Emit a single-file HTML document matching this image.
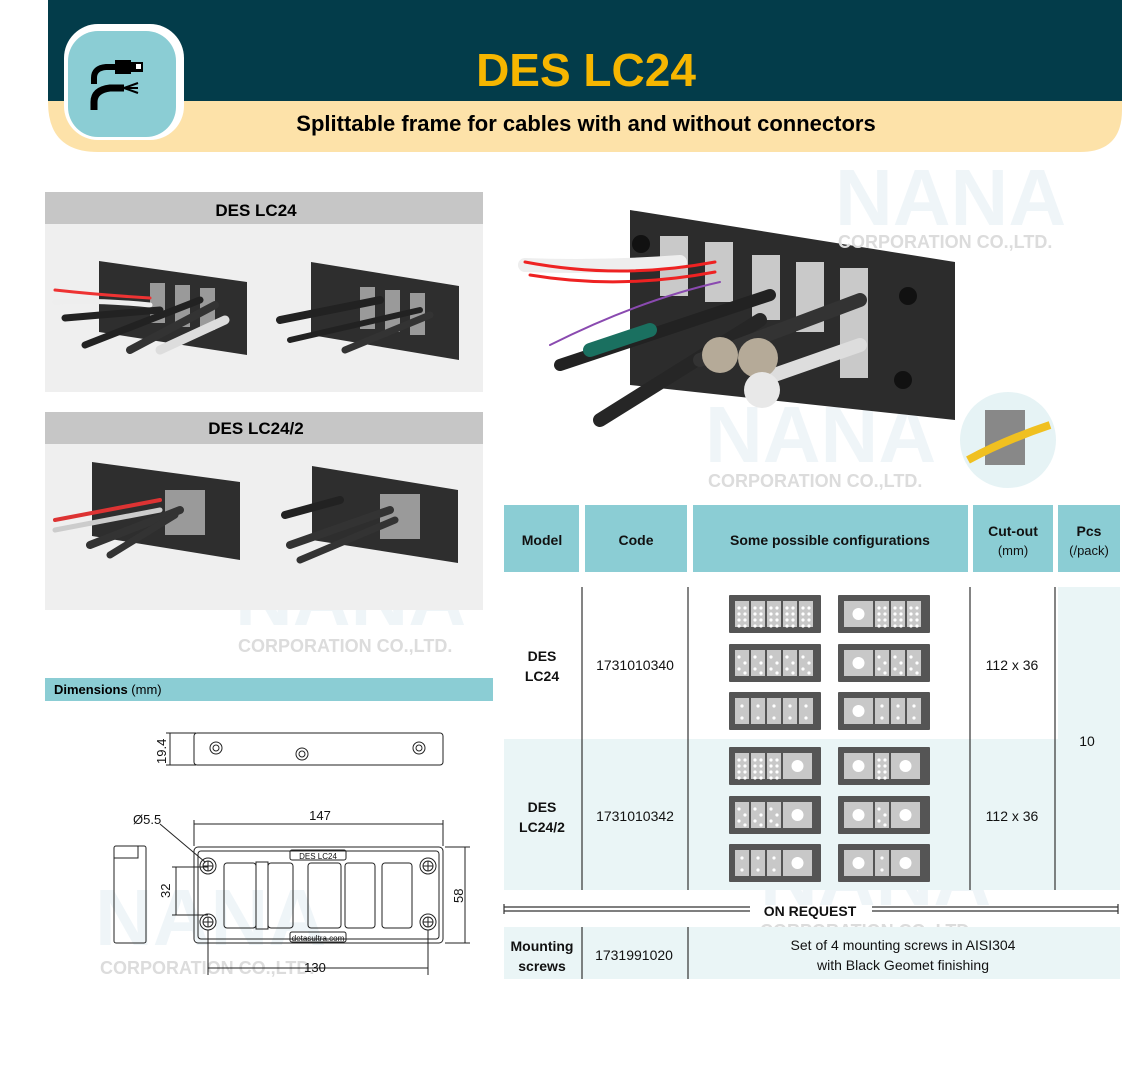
<!DOCTYPE html>
<html><head><meta charset="utf-8"><style>
body{margin:0;background:#fff;width:1148px;height:1075px;overflow:hidden;position:relative;font-family:"Liberation Sans",sans-serif}
svg{position:absolute;left:0;top:0}
</style></head><body>
<svg width="1148" height="1075" viewBox="0 0 1148 1075" font-family="Liberation Sans, sans-serif">
<!-- header -->
<path d="M48 0H1122V110Q1122 152 1080 152H98Q48 152 48 102Z" fill="#fde2a9"/>
<rect x="48" y="0" width="1074" height="101" fill="#033c4a"/>
<rect x="64" y="24" width="120" height="116" rx="34" fill="#fff"/>
<rect x="68" y="31" width="108" height="106" rx="30" fill="#8bcdd4"/>
<path d="M94 84V78Q94 68 106 67H116" stroke="#000" stroke-width="6" fill="none"/>
<rect x="115" y="60" width="16" height="14" fill="#000"/><rect x="131" y="62" width="12" height="10" fill="#000"/><rect x="136" y="64" width="5" height="5" fill="#fff"/>
<path d="M94 110V102Q94 90 110 88H124" stroke="#000" stroke-width="7" fill="none"/>
<path d="M124 88L138 83M124 88L138 88M124 88L138 93" stroke="#000" stroke-width="2"/>
<text x="586" y="86" font-size="46" font-weight="bold" fill="#f6b600" text-anchor="middle">DES LC24</text>
<text x="586" y="131" font-size="22" font-weight="bold" fill="#000" text-anchor="middle">Splittable frame for cables with and without connectors</text>

<!-- watermarks -->
<g fill="#e3edf4" font-weight="bold" font-size="80" opacity="0.55">
<text x="100" y="258">NANA</text><text x="835" y="225">NANA</text><text x="705" y="462">NANA</text><text x="235" y="625">NANA</text><text x="760" y="905">NANA</text><text x="95" y="945">NANA</text>
</g>

<!-- left photo panels -->
<rect x="45" y="192" width="438" height="32" fill="#c6c6c6"/>
<rect x="45" y="224" width="438" height="168" fill="#efefef"/>
<text x="256" y="216" font-size="17" font-weight="bold" text-anchor="middle">DES LC24</text>
<rect x="45" y="412" width="438" height="32" fill="#c6c6c6"/>
<rect x="45" y="444" width="438" height="166" fill="#efefef"/>
<text x="256" y="434" font-size="17" font-weight="bold" text-anchor="middle">DES LC24/2</text>
<g fill="#2e2e2e">
<polygon points="99,261 247,282 247,355 99,332"/><polygon points="311,262 459,286 459,360 311,335"/>
<polygon points="92,462 240,482 240,560 92,536"/><polygon points="312,466 458,490 458,563 312,540"/>
</g>
<g fill="#9a9a9a">
<rect x="150" y="283" width="15" height="40"/><rect x="175" y="285" width="15" height="42"/><rect x="200" y="288" width="15" height="42"/>
<rect x="360" y="287" width="15" height="42"/><rect x="385" y="290" width="15" height="42"/><rect x="410" y="293" width="15" height="42"/>
<rect x="165" y="490" width="40" height="45"/><rect x="380" y="494" width="40" height="45"/>
</g>
<g stroke-linecap="round" fill="none">
<path d="M55 290Q100 295 150 298" stroke="#e33" stroke-width="3"/><path d="M55 302Q100 300 150 305" stroke="#eee" stroke-width="5"/>
<path d="M65 318L160 310" stroke="#222" stroke-width="7"/><path d="M85 345L200 300" stroke="#222" stroke-width="7"/>
<path d="M130 350L215 305" stroke="#333" stroke-width="8"/><path d="M160 350L225 320" stroke="#ddd" stroke-width="9"/>
<path d="M280 320L380 300" stroke="#222" stroke-width="8"/><path d="M290 340L420 310" stroke="#222" stroke-width="6"/><path d="M345 350L430 315" stroke="#333" stroke-width="7"/>
<path d="M55 520L160 500" stroke="#d33" stroke-width="4"/><path d="M55 530L160 510" stroke="#ccc" stroke-width="5"/><path d="M90 545L180 510" stroke="#333" stroke-width="8"/>
<path d="M110 555L175 515" stroke="#333" stroke-width="7"/><path d="M285 515L340 500" stroke="#222" stroke-width="8"/><path d="M290 545L390 510" stroke="#333" stroke-width="8"/><path d="M300 560L395 520" stroke="#333" stroke-width="7"/>
</g>

<!-- big photo -->
<polygon points="630,210 955,262 955,420 630,385" fill="#2c2c2c"/>
<g fill="#c9c9c9"><rect x="660" y="236" width="28" height="60"/><rect x="705" y="242" width="28" height="60"/><rect x="752" y="255" width="28" height="65"/><rect x="796" y="262" width="28" height="70"/><rect x="840" y="268" width="28" height="110"/></g>
<g fill="#111"><circle cx="641" cy="244" r="9"/><circle cx="908" cy="296" r="9"/><circle cx="903" cy="380" r="9"/></g>
<g fill="none" stroke-linecap="round">
<path d="M525 265Q600 268 680 262" stroke="#eee" stroke-width="14"/>
<path d="M525 262Q620 280 715 262" stroke="#e22" stroke-width="3"/><path d="M530 275Q620 290 715 272" stroke="#e22" stroke-width="3"/>
<path d="M550 345Q640 300 720 282" stroke="#8a4ab0" stroke-width="2"/>
<path d="M560 365L770 295" stroke="#222" stroke-width="12"/>
<path d="M590 350L650 330" stroke="#1a7060" stroke-width="14"/>
<path d="M600 420L760 320" stroke="#262626" stroke-width="14"/>
<path d="M700 360L860 300" stroke="#333" stroke-width="14"/>
<path d="M760 380L860 345" stroke="#ddd" stroke-width="14"/>
</g>
<circle cx="720" cy="355" r="18" fill="#b5aa98"/><circle cx="758" cy="358" r="20" fill="#b5aa98"/><circle cx="762" cy="390" r="18" fill="#e8e8e8"/>
<circle cx="1008" cy="440" r="48" fill="#e6f3f5"/>
<rect x="985" y="410" width="40" height="55" fill="#888"/><path d="M968 460Q1005 440 1050 425" stroke="#f0c020" stroke-width="8" fill="none"/>

<g fill="#dcdcdc" font-weight="bold" font-size="18">
<text x="238" y="652">CORPORATION CO.,LTD.</text><text x="838" y="248">CORPORATION CO.,LTD.</text><text x="708" y="487">CORPORATION CO.,LTD.</text><text x="100" y="974">CORPORATION CO.,LTD.</text><text x="760" y="937">CORPORATION CO.,LTD.</text>
</g>

<!-- dimensions -->
<rect x="45" y="678" width="448" height="23" fill="#8bcdd4"/>
<text x="54" y="694" font-size="13"><tspan font-weight="bold">Dimensions</tspan> (mm)</text>
<g stroke="#222" fill="none" stroke-width="1">
<rect x="194" y="733" width="249" height="32" rx="3"/>
<path d="M166 733H196M166 765H196M170 733V765"/>
<circle cx="216" cy="748" r="6"/><circle cx="216" cy="748" r="3"/><circle cx="302" cy="754" r="6"/><circle cx="302" cy="754" r="3"/><circle cx="419" cy="748" r="6"/><circle cx="419" cy="748" r="3"/>
<rect x="114" y="846" width="32" height="97" rx="2"/><path d="M114 858H138V846"/>
<rect x="194" y="847" width="249" height="96" rx="4"/><rect x="198" y="851" width="241" height="88" rx="3"/>
<path d="M194 846V820M443 846V820M194 824H443"/>
<path d="M445 847H470M445 943H470M465 847V943"/>
<path d="M172 867H208M172 915H208M176 867V915"/>
<path d="M208 930V975M428 930V975M208 968H428"/>
<path d="M160 824L205 862"/>
<circle cx="208" cy="866" r="8"/><circle cx="208" cy="866" r="5"/><circle cx="428" cy="866" r="8"/><circle cx="428" cy="866" r="5"/>
<circle cx="208" cy="922" r="8"/><circle cx="208" cy="922" r="5"/><circle cx="428" cy="922" r="8"/><circle cx="428" cy="922" r="5"/>
<path d="M203 866h10M208 861v10M423 866h10M428 861v10M203 922h10M208 917v10M423 922h10M428 917v10"/>
<rect x="224" y="863" width="32" height="65" rx="3"/><rect x="256" y="862" width="12" height="67"/><rect x="268" y="863" width="25" height="65" rx="3"/>
<rect x="308" y="863" width="33" height="65" rx="3"/><rect x="345" y="863" width="30" height="65" rx="3"/><rect x="382" y="863" width="30" height="65" rx="3"/>
<rect x="290" y="850" width="56" height="10" rx="2"/><rect x="290" y="932" width="56" height="10" rx="2"/>
</g>
<g font-size="13" fill="#111">
<text x="320" y="820" text-anchor="middle">147</text><text x="315" y="972" text-anchor="middle">130</text><text x="133" y="824">Ø5.5</text>
<text transform="translate(166 764) rotate(-90)">19.4</text><text transform="translate(170 898) rotate(-90)">32</text><text transform="translate(463 903) rotate(-90)">58</text>
<text x="318" y="859" font-size="8" text-anchor="middle">DES LC24</text><text x="318" y="941" font-size="8" text-anchor="middle">detasultra.com</text>
</g>

<!-- table -->
<g fill="#8bcdd4">
<rect x="504" y="505" width="75" height="67"/><rect x="585" y="505" width="102" height="67"/><rect x="693" y="505" width="275" height="67"/><rect x="973" y="505" width="80" height="67"/><rect x="1058" y="505" width="62" height="67"/>
</g>
<rect x="1058" y="587" width="62" height="152" fill="#eaf5f6"/>
<rect x="504" y="739" width="616" height="151" fill="#eaf5f6"/>
<rect x="504" y="927" width="616" height="52" fill="#eaf5f6"/>
<g stroke="#333" stroke-width="1.2">
<path d="M582 587V890M688 587V890M970 587V890M1055 587V890M582 927V979M688 927V979"/>
<path d="M504 907H750M504 911H750M872 907H1118M872 911H1118M504 904V914M1118 904V914"/>
</g>
<g font-size="14" font-weight="bold" fill="#111" text-anchor="middle">
<text x="542" y="545">Model</text><text x="636" y="545">Code</text><text x="830" y="545">Some possible configurations</text>
<text x="1013" y="536">Cut-out</text><text x="1089" y="536">Pcs</text>
<text x="542" y="661">DES</text><text x="542" y="681">LC24</text>
<text x="542" y="812">DES</text><text x="542" y="832">LC24/2</text>
<text x="810" y="916">ON REQUEST</text>
<text x="542" y="951">Mounting</text><text x="542" y="971">screws</text>
</g>
<g font-size="14" fill="#111" text-anchor="middle">
<text x="1013" y="555" font-size="13">(mm)</text><text x="1089" y="555" font-size="13">(/pack)</text>
<text x="635" y="670">1731010340</text><text x="635" y="821">1731010342</text><text x="634" y="960">1731991020</text>
<text x="1012" y="670">112 x 36</text><text x="1012" y="821">112 x 36</text><text x="1087" y="746">10</text>
<text x="903" y="950">Set of 4 mounting screws in AISI304</text><text x="903" y="970">with Black Geomet finishing</text>
</g>
<g id="icons"></g>
</svg>
<script>
var g=document.getElementById('icons'),s='';
function icon(x,y,spec){
 s+='<rect x="'+x+'" y="'+y+'" width="92" height="38" fill="#555" rx="1"/>';
 var cx=x+6;
 for(var i=0;i<spec.length;i++){
  var t=spec[i];
  if(t=='O'){s+='<rect x="'+cx+'" y="'+(y+6)+'" width="29" height="26" fill="#c8c8c8"/><circle cx="'+(cx+14.5)+'" cy="'+(y+19)+'" r="6" fill="#fff"/>';cx+=31;}
  else{s+='<rect x="'+cx+'" y="'+(y+6)+'" width="14" height="26" fill="#c8c8c8"/>';
   var d=[];
   if(t=='A'){for(var r=0;r<4;r++){d.push([4,9+r*6-3]);d.push([10,9+r*6-3]);}}
   else if(t=='B'){d=[[4,6],[10,12],[4,18],[10,22]];}
   else{d=[[7,7],[7,19]];}
   d.forEach(function(p){s+='<circle cx="'+(cx+p[0])+'" cy="'+(y+6+p[1]+1)+'" r="1.6" fill="#fff"/>';});
   cx+=16;}
 }
}
var rows=[[595,'AAAAA','OAAA'],[644,'BBBBB','OBBB'],[692,'CCCCC','OCCC'],[747,'AAAO','OAO'],[796,'BBBO','OBO'],[844,'CCCO','OCO']];
rows.forEach(function(r){icon(729,r[0],r[1]);icon(838,r[0],r[2]);});
g.innerHTML=s;
</script>
</body></html>
